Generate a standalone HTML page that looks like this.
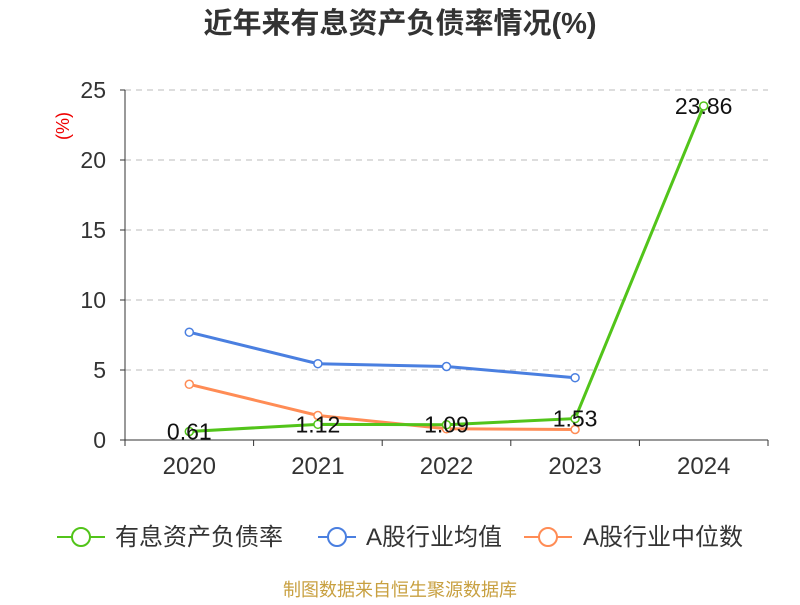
<!DOCTYPE html>
<html><head><meta charset="utf-8"><style>
body{margin:0;background:#fff;}
svg text{font-family:"Liberation Sans","Noto Sans CJK SC",sans-serif;}
</style></head><body>
<svg id="chart" width="800" height="600" xmlns="http://www.w3.org/2000/svg">
<text x="400" y="33" text-anchor="middle" font-size="29" font-weight="bold" fill="#333">近年来有息资产负债率情况(%)</text>
<text x="0" y="0" transform="translate(69,126) rotate(-90)" text-anchor="middle" font-size="18" fill="#e00">(%)</text>
<g id="grid"></g><g id="axes"></g><g id="series"></g>
<g>
<g><line x1="57" y1="537" x2="105" y2="537" stroke="#52c41a" stroke-width="2"/><circle cx="81" cy="537" r="9" fill="#fff" stroke="#52c41a" stroke-width="2"/><text x="115" y="545" font-size="24" fill="#333">有息资产负债率</text></g>
<g><line x1="318" y1="537" x2="356" y2="537" stroke="#4a7fe0" stroke-width="2"/><circle cx="337" cy="537" r="9" fill="#fff" stroke="#4a7fe0" stroke-width="2"/><text x="366" y="545" font-size="24" fill="#333">A股行业均值</text></g>
<g><line x1="524" y1="537" x2="572" y2="537" stroke="#ff8c55" stroke-width="2"/><circle cx="548" cy="537" r="9" fill="#fff" stroke="#ff8c55" stroke-width="2"/><text x="583" y="545" font-size="24" fill="#333">A股行业中位数</text></g>
</g>
<text x="400" y="596" text-anchor="middle" font-size="18" fill="#c8a040">制图数据来自恒生聚源数据库</text>
</svg>
<script>
const categories=["2020","2021","2022","2023","2024"];
const debtRatio=[0.61,1.12,1.09,1.53,23.86];
const industryMean=[7.7,5.45,5.25,4.45];
const industryMedian=[3.98,1.75,0.8,0.75];
const yTicks=[0,5,10,15,20,25];
const NS="http://www.w3.org/2000/svg";
const x0=125,x1=768,y0=440,y1=90,yMax=25;
const bw=(x1-x0)/categories.length;
const xs=i=>x0+bw*(i+0.5);
const ys=v=>y0-(v/yMax)*(y0-y1);
function mk(t,a,p){const e=document.createElementNS(NS,t);for(const k in a)e.setAttribute(k,a[k]);p.appendChild(e);return e;}
const grid=document.getElementById('grid'),axes=document.getElementById('axes'),ser=document.getElementById('series');
yTicks.forEach(v=>{
 if(v>0){const l=mk('line',{x1:x0,x2:x1,y1:ys(v),y2:ys(v),stroke:'#bbb','stroke-dasharray':'6,5'},grid);
 
 }
 const t=mk('text',{x:106,y:ys(v)+8,'text-anchor':'end','font-size':23,fill:'#333'},axes);t.textContent=v;
 
 
 mk('line',{x1:x0-5,x2:x0,y1:ys(v),y2:ys(v),stroke:'#333'},axes);
});
const ya=mk('line',{x1:x0,x2:x0,y1:y1,y2:y0,stroke:'#333'},axes);


const xa=mk('line',{x1:x0,x2:x1,y1:y0,y2:y0,stroke:'#333'},axes);


for(let i=0;i<=categories.length;i++)mk('line',{x1:x0+bw*i,x2:x0+bw*i,y1:y0,y2:y0+6,stroke:'#333'},axes);
categories.forEach((c,i)=>{const t=mk('text',{x:xs(i),y:474,'text-anchor':'middle','font-size':24,fill:'#333'},axes);t.textContent=c;
 
 });
function series(vals,color,name,labels){
 const g=mk('g',{},ser);
 
 
 const p=mk('polyline',{points:vals.map((v,i)=>xs(i)+','+ys(v)).join(' '),fill:'none',stroke:color,'stroke-width':3},g);
 
 
 vals.forEach((v,i)=>{const c=mk('circle',{cx:xs(i),cy:ys(v),r:4,fill:'#fff',stroke:color,'stroke-width':1.5},g);
  
  
  if(labels){const t=mk('text',{x:xs(i),y:ys(v)+8,'text-anchor':'middle','font-size':23,fill:'#111'},g);t.textContent=v;
   
   }
 });
}
series(industryMedian,'#ff8c55','industry-median-series',false);
series(industryMean,'#4a7fe0','industry-mean-series',false);
series(debtRatio,'#52c41a','debt-ratio-series',true);
</script>
</body></html>
